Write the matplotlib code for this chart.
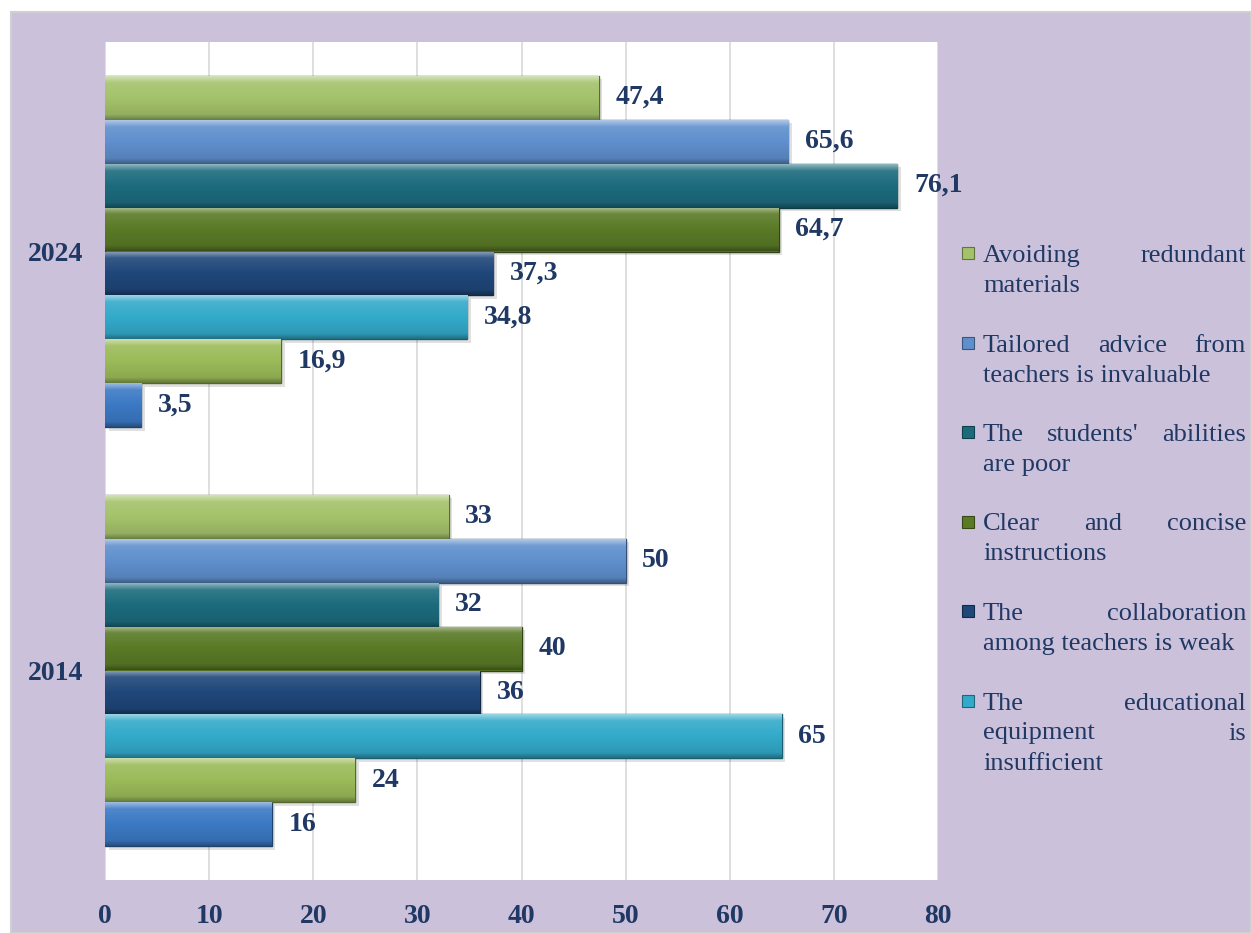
import numpy as np
import matplotlib.pyplot as plt
import matplotlib.colors as mcolors
from matplotlib.patches import Rectangle

years = ['2014', '2024']
# series listed from the bottom bar of each group to the top bar
series_names = ['', '',
                'The educational equipment is insufficient',
                'The collaboration among teachers is weak',
                'Clear and concise instructions',
                "The students' abilities are poor",
                'Tailored advice from teachers is invaluable',
                'Avoiding redundant materials']
# how the legend wraps each name (same order as above)
legend_lines = [[], [],
                ['The educational', 'equipment is', 'insufficient'],
                ['The collaboration', 'among teachers is weak'],
                ['Clear and concise', 'instructions'],
                ["The students' abilities", 'are poor'],
                ['Tailored advice from', 'teachers is invaluable'],
                ['Avoiding redundant', 'materials']]
vals_2014 = [16, 24, 65, 36, 40, 32, 50, 33]
vals_2024 = [3.5, 16.9, 34.8, 37.3, 64.7, 76.1, 65.6, 47.4]
colors = ['#3B79C4', '#9BBB59', '#33AACA', '#1F477A', '#5A7A26', '#1C6B7D', '#5F8FCD', '#A4C26A']

navy = '#1F3864'
plt.rcParams['font.family'] = ['Liberation Serif', 'DejaVu Serif']

fig = plt.figure(figsize=(12.51, 9.33), dpi=100)
fig.patches.append(Rectangle((11/1251, 0), 1 - 11/1251, 1 - 12/933, transform=fig.transFigure,
                             facecolor='#CCC1DA', edgecolor='#D0D0D0', lw=1.5, zorder=-5))
ax = fig.add_axes([105/1251, 1 - 880/933, 833/1251, 838/933])
ax.set_facecolor('white')


def shade(c, f):
    r = np.array(mcolors.to_rgb(c))
    if f > 0:
        return tuple(r + (1 - r) * f)
    return tuple(r * (1 + f))


h = 0.105
y = np.arange(len(years))
for i in range(len(series_names)):
    v = [vals_2014[i], vals_2024[i]]
    pos = y + (i - 3.5) * h
    # soft drop shadow
    ax.barh(pos - 0.008, v, left=0.35, height=h, color='#000000', alpha=0.12, lw=0, zorder=2.5)
    bars = ax.barh(pos, v, height=h, color=colors[i], edgecolor=shade(colors[i], -0.45),
                   linewidth=1.0, zorder=3)
    cmap = mcolors.LinearSegmentedColormap.from_list(
        'b%d' % i, [(0, shade(colors[i], -0.35)), (0.12, shade(colors[i], -0.1)),
                    (0.5, colors[i]), (0.85, shade(colors[i], 0.1)), (1, shade(colors[i], 0.5))])
    grad = np.linspace(0, 1, 64).reshape(-1, 1)
    for b in bars:
        x0, y0 = b.get_x(), b.get_y()
        im = ax.imshow(grad, extent=[x0, x0 + b.get_width(), y0, y0 + b.get_height()],
                       origin='lower', aspect='auto', cmap=cmap, zorder=3.5, interpolation='bilinear')
        im.set_clip_path(b)
    for p, val in zip(pos, v):
        txt = ('%g' % val).replace('.', ',')
        ax.text(val + 1.6, p, txt, va='center', ha='left', fontsize=20, fontweight='bold',
                color=navy, zorder=4)

ax.set_xlim(0, 80)
ax.set_ylim(-0.5, 1.5)
ax.set_xticks(np.arange(0, 81, 10))
ax.set_yticks(y)
ax.set_yticklabels(years)
ax.grid(axis='x', color='#D9D9D9', lw=1.2, zorder=0)
ax.tick_params(axis='both', length=0, labelsize=20, labelcolor=navy)
ax.tick_params(axis='x', pad=17)
ax.tick_params(axis='y', pad=16)
for lab in ax.get_xticklabels() + ax.get_yticklabels():
    lab.set_fontweight('bold')
for s in ['top', 'right', 'bottom', 'left']:
    ax.spines[s].set_visible(False)

# legend: justified text like the original
renderer = fig.canvas.get_renderer()
W, H = 1251, 933
left_px, right_px = 983, 1246
row_px = 30
entry_px = 89.5
top_px = 256
fs = 19
order = [7, 6, 5, 4, 3, 2]
for k, i in enumerate(order):
    yc = top_px + k * entry_px
    fig.patches.append(Rectangle((962 / W, 1 - (yc + 3) / H), 12 / W, 12 / H, transform=fig.transFigure,
                                 facecolor=colors[i], edgecolor=shade(colors[i], -0.4), lw=0.8, zorder=2))
    lines = legend_lines[i]
    for j, line in enumerate(lines):
        ly = 1 - (yc + j * row_px) / H
        words = line.split(' ')
        if j == len(lines) - 1 or len(words) == 1:
            fig.text(left_px / W, ly, line, ha='left', va='center', fontsize=fs, color=navy)
            continue
        ts = [fig.text(0, ly, w_, ha='left', va='center', fontsize=fs, color=navy) for w_ in words]
        widths = [t.get_window_extent(renderer).width for t in ts]
        gap = (right_px - left_px - sum(widths)) / (len(words) - 1)
        x = left_px
        for t, wd in zip(ts, widths):
            t.set_x(x / W)
            x += wd + gap

fig.savefig('out.png', dpi=100)
